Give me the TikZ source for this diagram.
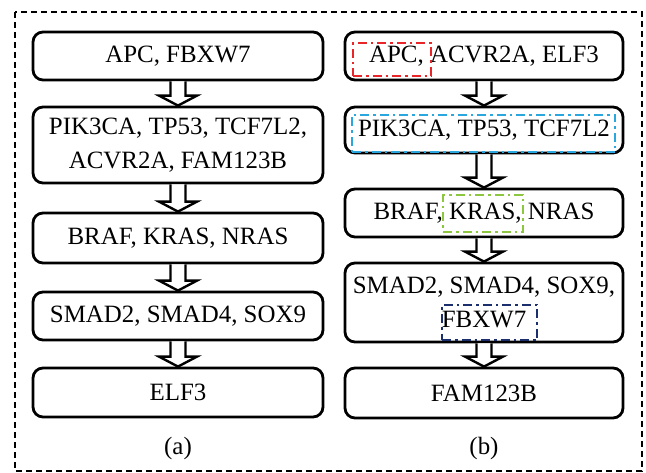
\documentclass[tikz,border=0pt]{standalone}
\usepackage{fontspec}
\setmainfont{Liberation Serif}
\usepackage{xcolor}
\usetikzlibrary{calc}
\definecolor{hlred}{HTML}{E8262A}
\definecolor{hlblue}{HTML}{2AA7DF}
\definecolor{hlgreen}{HTML}{8DC63F}
\definecolor{hlnavy}{HTML}{1B2F6E}
\newcommand{\hollowarrow}[2]{%
  \draw[blockarrow] ($(#1.south)+(-7.5,0)$) -- ($(#2.north)+(-7.5,-10)$) -- ($(#2.north)+(-19,-10)$)
    -- (#2.north) -- ($(#2.north)+(19,-10)$) -- ($(#2.north)+(7.5,-10)$) -- ($(#1.south)+(7.5,0)$);}

\begin{document}
\begin{tikzpicture}[x={(1bp,0bp)}, y={(0bp,-1bp)},
  every node/.style={font=\fontsize{25}{34}\selectfont, inner sep=0pt},
  gene/.style={draw, line width=2.8bp, rounded corners=10bp, align=center},
  geneL/.style={gene, minimum width=290bp},
  geneR/.style={gene, minimum width=278bp},
  blockarrow/.style={line width=2.4bp, line join=miter, fill=white},
  hilite/.style={draw=#1, line width=2.6bp, dash pattern=on 9bp off 4bp on 2.5bp off 4bp}]
  \useasboundingbox (0,0) rectangle (646,473);
  % Frame
  \draw[line width=1.8bp, dash pattern=on 6bp off 4bp] (15,12) rectangle (642,471);

  % Left column
  \node[geneL, minimum height=48bp] (L1) at (178,56) {APC, FBXW7};
  \node[geneL, minimum height=76bp] (L2) at (178,145) {PIK3CA, TP53, TCF7L2,\\ACVR2A, FAM123B};
  \node[geneL, minimum height=50bp] (L3) at (178,238) {BRAF, KRAS, NRAS};
  \node[geneL, minimum height=48bp] (L4) at (178,316) {SMAD2, SMAD4, SOX9};
  \node[geneL, minimum height=49bp] (L5) at (178,392.5) {ELF3};
  \node (La) at (178,449) {(a)};

  % Right column
  \node[geneR, minimum height=48bp] (R1) at (484,56) {APC, ACVR2A, ELF3};
  \node[geneR, minimum height=46bp] (R2) at (484,130) {PIK3CA, TP53, TCF7L2};
  \node[geneR, minimum height=48bp] (R3) at (484,213) {BRAF, KRAS, NRAS};
  \node[geneR, minimum height=79bp] (R4) at (484,302.5) {SMAD2, SMAD4, SOX9,\\FBXW7};
  \node[geneR, minimum height=50bp] (R5) at (484,393) {FAM123B};
  \node (Rb) at (484,449) {(b)};

  % Highlights
  \node[hilite=hlred, minimum width=78bp, minimum height=33bp] (hAPC) at (392,59.5) {};
  \node[hilite=hlblue, minimum width=263bp, minimum height=37bp] (hPIK) at (483.5,133.5) {};
  \node[hilite=hlgreen, minimum width=80bp, minimum height=37bp] (hKRAS) at (483,213.5) {};
  \node[hilite=hlnavy, minimum width=95bp, minimum height=35bp] (hFBX) at (489.5,322.5) {};

  % Arrows
  \hollowarrow{L1}{L2}
  \hollowarrow{L2}{L3}
  \hollowarrow{L3}{L4}
  \hollowarrow{L4}{L5}
  \hollowarrow{R1}{R2}
  \hollowarrow{R2}{R3}
  \hollowarrow{R3}{R4}
  \hollowarrow{R4}{R5}
\end{tikzpicture}
\end{document}
